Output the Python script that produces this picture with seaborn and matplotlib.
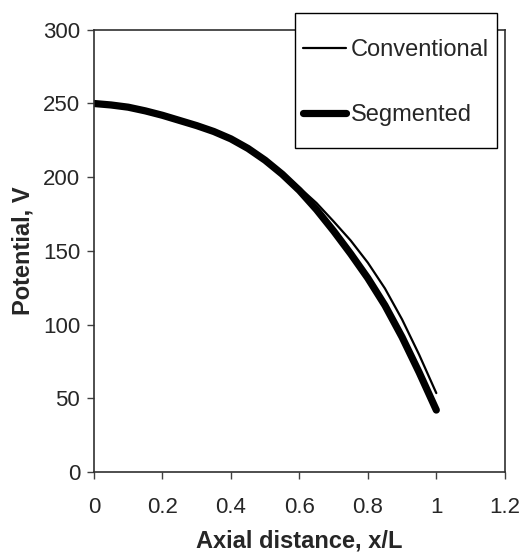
import matplotlib
matplotlib.use("Agg")
import matplotlib.pyplot as plt
import numpy as np
import pandas as pd
import seaborn as sns
from matplotlib.patches import Rectangle

# Axial position (x/L) and potential (V)
x_pos = [0.0, 0.05, 0.1, 0.15, 0.2, 0.25, 0.3, 0.35, 0.4, 0.45, 0.5,
         0.55, 0.6, 0.65, 0.7, 0.75, 0.8, 0.85, 0.9, 0.95, 1.0]
conventional = [250, 249, 247.5, 245, 242, 238.5, 235, 231, 226, 219.8, 212,
                203, 193, 182.5, 170, 157, 142, 124.5, 103.5, 79.5, 53.5]
segmented = [250, 249, 247.5, 245, 242, 238.5, 235, 231, 226, 219.5, 211.5,
             202, 191, 178, 163.5, 148, 131.5, 113, 91.5, 67.5, 42]
series_names = ["Conventional", "Segmented"]
x_ticks = [0, 0.2, 0.4, 0.6, 0.8, 1, 1.2]
x_tick_labels = ["0", "0.2", "0.4", "0.6", "0.8", "1", "1.2"]
y_ticks = [0, 50, 100, 150, 200, 250, 300]

df = pd.DataFrame({
    "x": x_pos * 2,
    "v": conventional + segmented,
    "series": [series_names[0]] * len(x_pos) + [series_names[1]] * len(x_pos),
})

sns.set_style("ticks")
plt.rcParams["font.family"] = ["Liberation Sans", "DejaVu Sans"]

fig = plt.figure(figsize=(5.22, 5.52), dpi=100)
ax = fig.add_axes([0.180, 0.145, 0.787, 0.801])

sns.lineplot(data=df, x="x", y="v", hue="series", size="series",
             sizes={"Conventional": 1.6, "Segmented": 5.2},
             palette={"Conventional": "black", "Segmented": "black"},
             ax=ax, legend=False, solid_capstyle="round")

ax.set_xlim(0, 1.2)
ax.set_ylim(0, 300)
ax.set_xticks(x_ticks)
ax.set_xticklabels(x_tick_labels)
ax.set_yticks(y_ticks)
ax.tick_params(axis="both", direction="out", length=5, width=1,
               color="#404040", labelsize=16)
ax.tick_params(axis="x", pad=13)
ax.tick_params(axis="y", pad=5)
for side in ["left", "right", "top", "bottom"]:
    ax.spines[side].set_visible(True)
    ax.spines[side].set_color("#303030")
    ax.spines[side].set_linewidth(1.2)

ax.set_xlabel("Axial distance, x/L", fontsize=17, fontweight="bold", labelpad=8)
ax.set_ylabel("Potential, V", fontsize=17, fontweight="bold", labelpad=6)

# Legend box over the top-right corner, partly outside the axes
box = Rectangle((0.5651, 0.7319), 0.387, 0.2446, transform=fig.transFigure,
                facecolor="white", edgecolor="black", linewidth=1.0, zorder=2)
fig.add_artist(box)

handles = [plt.Line2D([], [], color="black", lw=1.6),
           plt.Line2D([], [], color="black", lw=5.2, solid_capstyle="round")]
leg = fig.legend(handles, series_names, loc="center",
                 bbox_to_anchor=(0.7586, 0.8507), fontsize=17, frameon=False,
                 borderpad=0.0, handlelength=1.8, handletextpad=0.2,
                 labelspacing=1.81)
leg.set_zorder(3)

fig.savefig("out.png", dpi=100)
